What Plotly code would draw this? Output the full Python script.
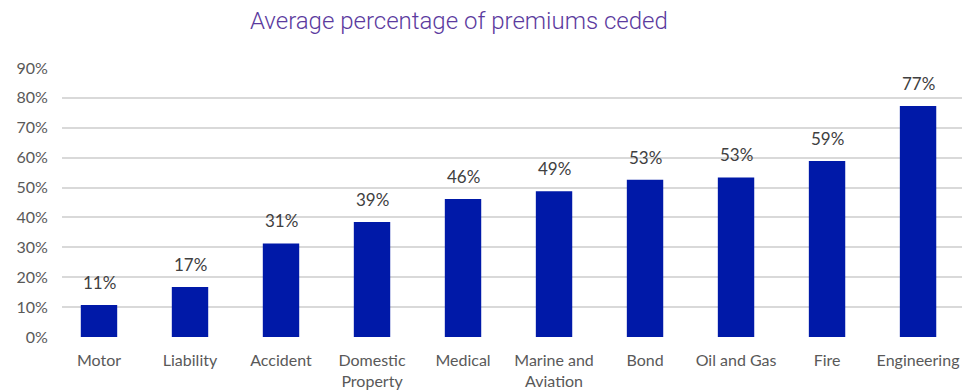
import plotly.graph_objects as go

categories = ["Motor", "Liability", "Accident", "Domestic<br>Property", "Medical",
              "Marine and<br>Aviation", "Bond", "Oil and Gas", "Fire", "Engineering"]
values = [0.107, 0.167, 0.313, 0.385, 0.462, 0.488, 0.526, 0.534, 0.589, 0.773]
labels = ["11%", "17%", "31%", "39%", "46%", "49%", "53%", "53%", "59%", "77%"]
y_ticks = [0, 0.1, 0.2, 0.3, 0.4, 0.5, 0.6, 0.7, 0.8, 0.9]
y_tick_text = ["0%", "10%", "20%", "30%", "40%", "50%", "60%", "70%", "80%", "90%"]
title_text = "Average percentage of premiums ceded"

fig = go.Figure()
fig.add_trace(go.Bar(x=list(range(len(categories))), y=values, width=0.4,
                     marker=dict(color="#0019A8", line=dict(width=0)),
                     hoverinfo="skip"))

for i, (v, t) in enumerate(zip(values, labels)):
    fig.add_annotation(x=i, y=v, text=t, showarrow=False, yanchor="bottom",
                       yshift=10, font=dict(family="Lato, Open Sans, sans-serif",
                                            size=17, color="#404040"))

fig.update_layout(
    width=962, height=392,
    margin=dict(l=62, r=0, t=68, b=55),
    plot_bgcolor="white", paper_bgcolor="white",
    showlegend=False,
    title=dict(text=title_text, x=0.477, xanchor="center", y=0.948, yanchor="middle",
               font=dict(family="Roboto, sans-serif", size=24, color="#5B3A9E", weight=300)),
    xaxis=dict(tickmode="array", tickvals=list(range(len(categories))), ticktext=categories,
               range=[-0.4066, 9.483], showgrid=False, zeroline=False, showline=False,
               ticks="outside", ticklen=9, tickcolor="rgba(0,0,0,0)",
               tickfont=dict(family="Lato, Open Sans, sans-serif", size=16, color="#595959")),
    yaxis=dict(range=[0, 0.9], tickmode="array", tickvals=y_ticks, ticktext=y_tick_text,
               showgrid=True, gridcolor="#D9D9D9", gridwidth=1.5, zeroline=False,
               showline=False, ticks="outside", ticklen=10, tickcolor="rgba(0,0,0,0)",
               tickfont=dict(family="Lato, Open Sans, sans-serif", size=16, color="#595959")),
)

fig.write_html("out.html")
